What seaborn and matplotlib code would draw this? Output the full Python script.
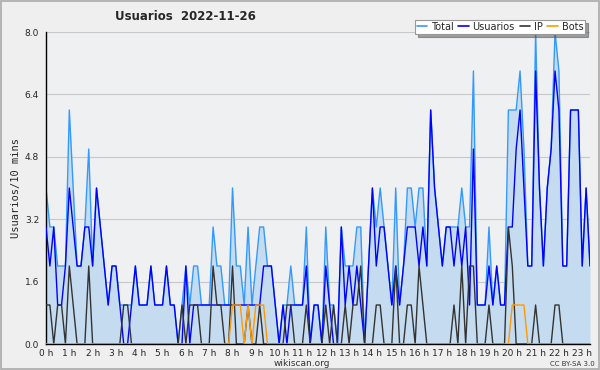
import numpy as np
import pandas as pd
import matplotlib
matplotlib.use("Agg")
import matplotlib.pyplot as plt
import seaborn as sns
from matplotlib.patches import Rectangle
from matplotlib.ticker import MultipleLocator, FixedLocator

# 10-minute slots from 0:00 to 23:20
usuarios = [3, 2, 3, 1, 1, 2, 4, 3, 2, 2,
            3, 3, 2, 4, 3, 2, 1, 2, 2, 1,
            0, 0, 1, 2, 1, 1, 1, 2, 1, 1,
            1, 2, 1, 1, 0, 0, 2, 0, 1, 1,
            1, 1, 1, 1, 1, 1, 1, 1, 1, 1,
            1, 1, 1, 1, 1, 1, 2, 2, 2, 1,
            0, 1, 0, 1, 1, 1, 1, 2, 0, 1,
            1, 0, 2, 1, 0, 0, 3, 1, 2, 1,
            2, 1, 0, 2, 4, 2, 3, 3, 2, 1,
            2, 1, 2, 3, 3, 3, 2, 3, 2, 6,
            4, 3, 2, 3, 3, 2, 3, 2, 3, 1,
            5, 1, 1, 1, 2, 1, 2, 1, 1, 3,
            3, 5, 6, 4, 2, 2, 7, 4, 2, 4,
            5, 7, 6, 2, 2, 6, 6, 6, 2, 4,
            2]
ip = [1, 1, 0, 1, 1, 0, 2, 1, 0, 0,
      0, 2, 0, 0, 0, 0, 0, 0, 0, 0,
      1, 1, 0, 0, 0, 0, 0, 0, 0, 0,
      0, 0, 0, 0, 0, 1, 0, 1, 1, 1,
      0, 0, 0, 2, 1, 1, 0, 0, 2, 0,
      0, 0, 1, 0, 0, 1, 0, 0, 0, 0,
      0, 0, 1, 1, 0, 0, 0, 1, 0, 0,
      0, 0, 1, 0, 1, 0, 0, 1, 0, 1,
      1, 2, 0, 0, 0, 1, 1, 0, 0, 0,
      2, 0, 0, 1, 1, 0, 2, 1, 0, 0,
      0, 0, 0, 0, 0, 1, 0, 2, 0, 2,
      2, 0, 0, 0, 1, 0, 0, 0, 0, 3,
      2, 0, 0, 0, 0, 0, 1, 0, 0, 0,
      0, 1, 1, 0, 0, 0, 0, 0, 0, 0,
      0]
bots = [0] * 48 + [1, 1, 1, 0, 1, 0, 1, 1, 1] + [0] * 63 + [1, 1, 1, 1] + [0] * 17
total = [4, 3, 3, 2, 2, 2, 6, 4, 2, 2,
         3, 5, 2, 4, 3, 2, 1, 2, 2, 1,
         1, 1, 1, 2, 1, 1, 1, 2, 1, 1,
         1, 2, 1, 1, 0, 1, 2, 1, 2, 2,
         1, 1, 1, 3, 2, 2, 1, 1, 4, 2,
         2, 1, 3, 1, 2, 3, 3, 2, 2, 1,
         0, 1, 1, 2, 1, 1, 1, 3, 0, 1,
         1, 0, 3, 1, 1, 0, 3, 2, 2, 2,
         3, 3, 0, 2, 4, 3, 4, 3, 2, 1,
         4, 1, 2, 4, 4, 3, 4, 4, 2, 6,
         4, 3, 2, 3, 3, 3, 3, 4, 3, 3,
         7, 1, 1, 1, 3, 1, 2, 1, 1, 6,
         6, 6, 7, 5, 2, 2, 8, 4, 2, 4,
         5, 8, 7, 2, 2, 6, 6, 6, 2, 4,
         2]
hours = [f"{h} h" for h in range(24)]

slot = np.arange(len(total))
df = pd.DataFrame({"slot": slot, "Total": total, "Usuarios": usuarios,
                   "IP": ip, "Bots": bots})

sns.set_style("white")
plt.rcParams["font.family"] = ["DejaVu Sans"]

fig = plt.figure(figsize=(6, 3.7), dpi=100, facecolor="#efefef")
ax = fig.add_axes([46 / 600, 1 - 344 / 370, 544 / 600, 312 / 370])
ax.set_facecolor("#eef0f2")

colors = {"Total": "#3399ff", "Usuarios": "#0000ff", "IP": "#333333", "Bots": "#ff9900"}

ax.fill_between(df["slot"], df["Total"], color="#c5dcf0", lw=0, zorder=1)
for name in ["Total", "Usuarios", "IP", "Bots"]:
    sns.lineplot(data=df, x="slot", y=name, ax=ax, color=colors[name], lw=1.0,
                 label=name, zorder=3 if name != "Total" else 2)

ax.set_xlim(0, len(total) - 1)
ax.set_ylim(0, 8)
yt = [0, 1.6, 3.2, 4.8, 6.4, 8.0]
ax.yaxis.set_major_locator(FixedLocator(yt))
ax.yaxis.set_minor_locator(MultipleLocator(0.4))
ax.set_yticklabels([f"{v:.1f}" for v in yt])
ax.xaxis.set_major_locator(FixedLocator(np.arange(0, 24) * 6))
ax.xaxis.set_minor_locator(MultipleLocator(1))
ax.set_xticklabels(hours)
ax.grid(axis="y", color="#c8c8c8", lw=0.8)
ax.grid(axis="x", visible=False)
ax.tick_params(axis="both", which="major", labelsize=6.5, length=4, width=0.8,
               direction="out", pad=1, color="black")
ax.tick_params(axis="both", which="minor", length=2.5, width=0.6, direction="out", color="black")
ax.tick_params(axis="x", which="major", length=3, pad=0.5)
for s in ["top", "right"]:
    ax.spines[s].set_visible(False)
for s in ["left", "bottom"]:
    ax.spines[s].set_color("black")
    ax.spines[s].set_linewidth(1.0)
ax.set_xlabel("")
ax.set_ylabel("Usuarios/10 mins", family="DejaVu Sans Mono", fontsize=7.5, labelpad=3)

leg = ax.legend(ncol=4, loc="upper right", bbox_to_anchor=(590 / 600, 1 - 15 / 370),
                bbox_transform=fig.transFigure, fontsize=7, frameon=True,
                handlelength=1.1, handletextpad=0.35, columnspacing=0.5,
                borderpad=0.2, fancybox=False, shadow=True)
leg.get_frame().set_edgecolor("#999999")
leg.get_frame().set_linewidth(0.8)
for line in leg.get_lines():
    line.set_linewidth(1.2)

fig.text(185 / 600, 1 - 17 / 370, "Usuarios  2022-11-26", fontsize=8.5,
         fontweight="bold", ha="center", va="center")
fig.text(302 / 600, 1 - 363 / 370, "wikiscan.org", fontsize=6.5, ha="center", va="center",
         color="#333333")
fig.text(572 / 600, 1 - 364 / 370, "CC BY-SA 3.0", fontsize=5, ha="center", va="center",
         color="#333333")
fig.patches.append(Rectangle((0.0015, 0.0025), 0.997, 0.995, transform=fig.transFigure,
                             fill=False, edgecolor="#aaaaaa", lw=1.2))

fig.savefig("out.png", dpi=100, facecolor=fig.get_facecolor())
